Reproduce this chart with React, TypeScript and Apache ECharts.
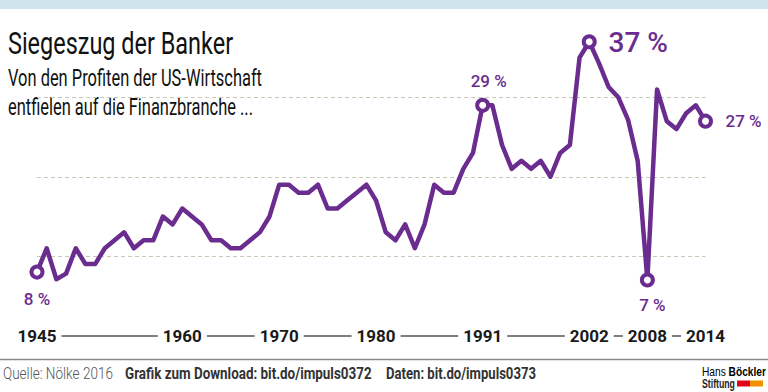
import React, { useEffect, useRef } from "react";
import * as echarts from "echarts";

const years = [
  "1945", "1946", "1947", "1948", "1949", "1950", "1951", "1952", "1953", "1954",
  "1955", "1956", "1957", "1958", "1959", "1960", "1961", "1962", "1963", "1964",
  "1965", "1966", "1967", "1968", "1969", "1970", "1971", "1972", "1973", "1974",
  "1975", "1976", "1977", "1978", "1979", "1980", "1981", "1982", "1983", "1984",
  "1985", "1986", "1987", "1988", "1989", "1990", "1991", "1992", "1993", "1994",
  "1995", "1996", "1997", "1998", "1999", "2000", "2001", "2002", "2003", "2004",
  "2005", "2006", "2007", "2008", "2009", "2010", "2011", "2012", "2013", "2014",
];

const financeShare = [
  8, 11, 7.1, 7.8, 11, 9, 9, 11, 12, 13,
  11, 12, 12, 15, 14, 16, 15, 14, 12, 12,
  11, 11, 12, 13, 15, 19, 19, 18, 18, 19,
  16, 16, 17, 18, 19, 17, 13, 12, 14, 11,
  14, 19, 18, 18, 21, 23, 29, 29, 24, 21,
  22, 21, 22, 20, 23, 24, 35, 37, 34.3, 31.3,
  30, 27.2, 22, 7, 31, 27, 26, 28, 29, 27,
];

const tickYears = ["1945", "1960", "1970", "1980", "1991", "2002", "2008", "2014"];

const calloutYears = ["1945", "1991", "2002", "2008", "2014"];
const calloutTexts = ["8 %", "29 %", "37 %", "7 %", "27 %"];

const titleText = "Siegeszug der Banker";
const subtitleLines = ["Von den Profiten der US-Wirtschaft", "entfielen auf die Finanzbranche ..."];
const sourceText = "Quelle: Nölke 2016";
const downloadText = "Grafik zum Download: bit.do/impuls0372";
const dataText = "Daten: bit.do/impuls0373";
const logoLine1 = ["Hans ", "Böckler"];
const logoLine2 = "Stiftung";

const PURPLE = "#6a2c8e";
const FONT = "Roboto";
const LOGO_FONT = "'Liberation Sans'";

// label placement per callout (offset from the point, font size, weight)
const calloutStyle: Record<string, { offset: number[]; size: number; weight: string }> = {
  "1945": { offset: [0, 27], size: 17, weight: "500" },
  "1991": { offset: [6, -24], size: 17, weight: "500" },
  "2002": { offset: [49, 1], size: 28, weight: "500" },
  "2008": { offset: [5, 25], size: 17, weight: "500" },
  "2014": { offset: [38, 0], size: 17, weight: "500" },
};

let measureCtx: CanvasRenderingContext2D | null = null;
function measure(text: string, font: string): number {
  if (!measureCtx) measureCtx = document.createElement("canvas").getContext("2d");
  if (!measureCtx) return text.length * 8;
  measureCtx.font = font;
  return measureCtx.measureText(text).width;
}

// a text squeezed horizontally to a target width (to imitate a condensed face)
function fitText(
  text: string,
  x: number,
  y: number,
  size: number,
  weight: string,
  color: string,
  targetWidth: number,
  family: string = FONT
) {
  const w = measure(text, `${weight} ${size}px ${family}`);
  return {
    type: "text",
    x,
    y,
    scaleX: w > 0 ? targetWidth / w : 1,
    style: {
      text,
      fill: color,
      fontFamily: family,
      fontSize: size,
      fontWeight: weight,
      verticalAlign: "middle",
      align: "left",
    },
  };
}

export default function App() {
  const ref = useRef<HTMLDivElement>(null);

  useEffect(() => {
    if (!ref.current) return;
    const chart = echarts.init(ref.current, null, { renderer: "svg" });

    const seriesData = financeShare.map((v, i) => {
      const idx = calloutYears.indexOf(years[i]);
      if (idx < 0) return v;
      const st = calloutStyle[years[i]];
      return {
        value: v,
        symbol: "circle",
        symbolSize: 11,
        itemStyle: { color: "#ffffff", borderColor: PURPLE, borderWidth: 4 },
        label: {
          show: true,
          position: "inside",
          offset: st.offset,
          formatter: calloutTexts[idx],
          color: PURPLE,
          fontFamily: FONT,
          fontSize: st.size,
          fontWeight: st.weight,
        },
      };
    });

    const logoW1 =
      measure(logoLine1[0], `normal 12px ${LOGO_FONT}`) + measure(logoLine1[1], `bold 12px ${LOGO_FONT}`);
    const logoScale1 = logoW1 > 0 ? 64 / logoW1 : 1;

    chart.setOption({
      animation: false,
      grid: { left: 37, right: 62.5, top: 17.9, bottom: 56.4, containLabel: false },
      xAxis: {
        type: "category",
        data: years,
        boundaryGap: false,
        axisLine: { show: true, lineStyle: { color: "#555555", width: 1.5 } },
        axisTick: { show: false },
        splitLine: { show: false },
        axisLabel: {
          show: true,
          interval: (_i: number, val: string) => tickYears.includes(val),
          showMinLabel: true,
          showMaxLabel: true,
          margin: 0,
          verticalAlign: "middle",
          color: "#1a1a1a",
          fontFamily: FONT,
          fontWeight: "bold",
          fontSize: 17,
          backgroundColor: "#ffffff",
          padding: [2, 5, 2, 5],
        },
      },
      yAxis: {
        type: "value",
        min: 0,
        max: 40,
        interval: 10,
        axisLine: { show: false },
        axisTick: { show: false },
        axisLabel: { show: false },
        splitLine: {
          show: true,
          showMinLine: false,
          showMaxLine: false,
          lineStyle: { color: "#c8c8b6", type: [4, 3], width: 1 },
        },
      },
      series: [
        {
          type: "line",
          data: seriesData,
          symbol: "none",
          showSymbol: true,
          lineStyle: { color: PURPLE, width: 4.5, join: "round" },
          itemStyle: { color: PURPLE },
          z: 5,
        },
      ],
      graphic: [
        { type: "rect", shape: { x: 0, y: 0, width: 768, height: 9 }, style: { fill: "#cde4ec" } },
        fitText(titleText, 8, 43.5, 32, "normal", "#111111", 225),
        fitText(subtitleLines[0], 8, 77.5, 23, "normal", "#111111", 254),
        fitText(subtitleLines[1], 8, 106.5, 23, "normal", "#111111", 245),
        {
          type: "line",
          shape: { x1: 0, y1: 359.5, x2: 768, y2: 359.5 },
          style: { stroke: "#8a8a8a", lineWidth: 1.5 },
        },
        fitText(sourceText, 3, 374, 16, "300", "#555555", 110),
        fitText(downloadText, 125, 374, 16, "bold", "#333333", 247),
        fitText(dataText, 386, 374, 16, "bold", "#333333", 150),
        {
          type: "text",
          x: 702,
          y: 372,
          scaleX: logoScale1,
          style: {
            text: `{a|${logoLine1[0]}}{b|${logoLine1[1]}}`,
            align: "left",
            verticalAlign: "middle",
            rich: {
              a: { fontFamily: LOGO_FONT, fontSize: 12, color: "#333333" },
              b: { fontFamily: LOGO_FONT, fontSize: 12, fontWeight: "bold", color: "#222222" },
            },
          },
        },
        fitText(logoLine2, 702, 384, 12, "bold", "#222222", 33, LOGO_FONT),
        { type: "rect", shape: { x: 737, y: 380.5, width: 13, height: 6 }, style: { fill: "#e2001a" } },
        { type: "rect", shape: { x: 750, y: 380.5, width: 13, height: 6 }, style: { fill: "#f39200" } },
      ],
    });

    return () => chart.dispose();
  }, []);

  return (
    <div
      ref={ref}
      style={{ position: "fixed", left: 0, top: 0, width: 768, height: 392, background: "#ffffff" }}
    />
  );
}
